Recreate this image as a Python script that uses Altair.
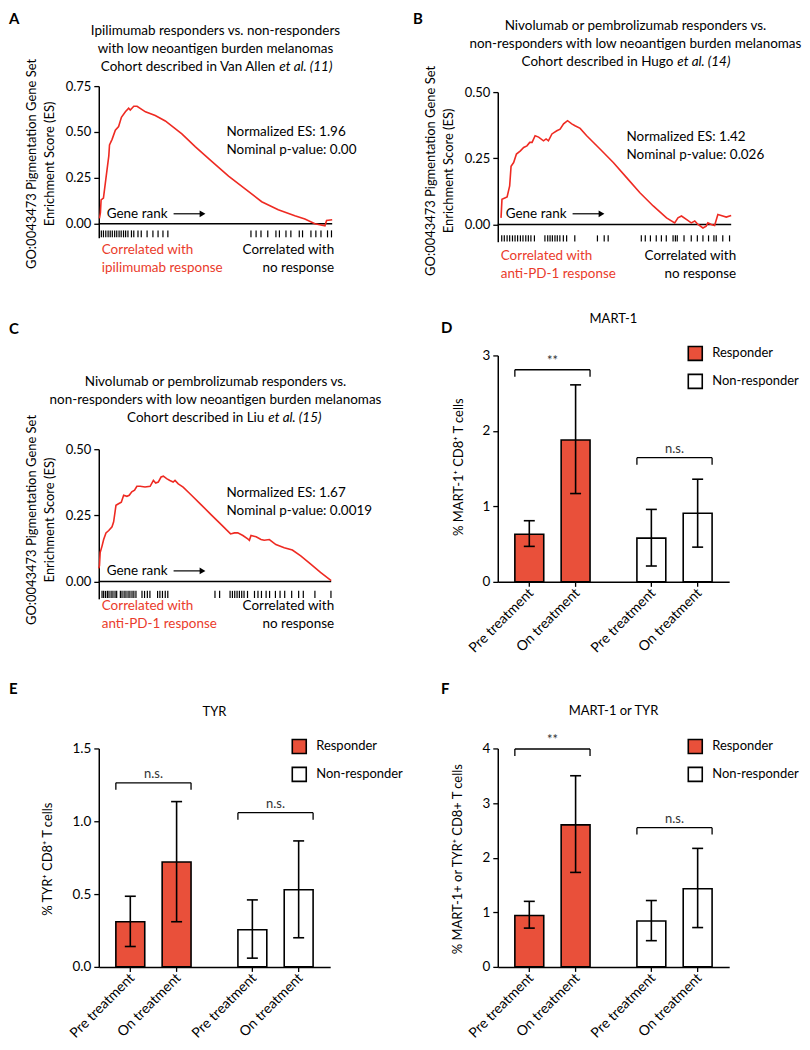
import altair as alt
import pandas as pd

FONT = "Lato"
LINE_RED = "#ee2a22"
TEXT_RED = "#ea3b2b"
BAR_RED = "#e9503a"

# ---------------- GSEA running enrichment scores ----------------
a_rank = [0.003, 0.007, 0.01, 0.02, 0.03, 0.036, 0.043, 0.046, 0.057, 0.071, 0.085, 0.097, 0.114,
          0.128, 0.135, 0.150, 0.164, 0.20, 0.242, 0.285, 0.356, 0.413, 0.484, 0.556, 0.627, 0.698,
          0.769, 0.84, 0.883, 0.926, 0.969, 0.976, 1.0]
a_es = [0.03, 0.06, 0.13, 0.14, 0.24, 0.30, 0.37, 0.43, 0.46, 0.51, 0.53, 0.58, 0.61,
        0.63, 0.62, 0.64, 0.64, 0.61, 0.59, 0.56, 0.49, 0.42, 0.34, 0.26, 0.19, 0.12,
        0.077, 0.044, 0.026, 0.0, -0.011, 0.018, 0.022]
a_hits = [0.011, 0.020, 0.030, 0.040, 0.049, 0.058, 0.068, 0.077, 0.087, 0.096, 0.106, 0.115, 0.125,
          0.14, 0.15, 0.168, 0.182, 0.207, 0.232, 0.254, 0.275, 0.296, 0.652, 0.674, 0.695, 0.724,
          0.759, 0.774, 0.802, 0.823, 0.859, 0.873, 0.909, 0.930, 0.952, 0.980, 0.997]

b_rank = [0.014, 0.018, 0.04, 0.051, 0.057, 0.068, 0.08, 0.097, 0.111, 0.125, 0.137, 0.147, 0.16,
          0.175, 0.196, 0.207, 0.217, 0.232, 0.253, 0.267, 0.282, 0.299, 0.317, 0.331, 0.353,
          0.381, 0.438, 0.495, 0.552, 0.609, 0.666, 0.723, 0.758, 0.772, 0.787, 0.808, 0.829,
          0.844, 0.858, 0.879, 0.893, 0.9, 0.915, 0.929, 0.943, 0.964, 0.979, 1.0]
b_es = [0.025, 0.095, 0.104, 0.146, 0.22, 0.234, 0.266, 0.278, 0.291, 0.297, 0.31, 0.31, 0.335,
        0.33, 0.316, 0.323, 0.316, 0.342, 0.354, 0.36, 0.38, 0.392, 0.38, 0.373, 0.363,
        0.335, 0.285, 0.234, 0.177, 0.12, 0.07, 0.025, 0.006, 0.025, 0.032, 0.019, 0.006,
        0.013, 0.0, -0.013, -0.006, 0.006, 0.0, -0.004, 0.038, 0.032, 0.028, 0.034]
b_hits = [0.017, 0.028, 0.040, 0.051, 0.063, 0.074, 0.085, 0.097, 0.108, 0.120, 0.131, 0.142, 0.157,
          0.202, 0.214, 0.224, 0.234, 0.245, 0.255, 0.266, 0.281, 0.295, 0.33, 0.427, 0.456, 0.473,
          0.615, 0.632, 0.654, 0.679, 0.701, 0.722, 0.751, 0.761, 0.769, 0.798, 0.829, 0.855,
          0.879, 0.903, 0.926, 0.936, 0.964, 0.993]

c_rank = [0.0, 0.003, 0.006, 0.014, 0.021, 0.031, 0.043, 0.057, 0.064, 0.074, 0.085, 0.097, 0.107,
          0.121, 0.131, 0.142, 0.154, 0.164, 0.178, 0.199, 0.221, 0.235, 0.245, 0.256, 0.268,
          0.278, 0.292, 0.306, 0.32, 0.328, 0.342, 0.363, 0.399, 0.442, 0.484, 0.527, 0.567,
          0.584, 0.598, 0.62, 0.641, 0.648, 0.655, 0.677, 0.698, 0.712, 0.734, 0.762, 0.798,
          0.833, 0.869, 0.912, 0.954, 1.0]
c_es = [0.05, 0.06, 0.11, 0.134, 0.159, 0.184, 0.193, 0.207, 0.226, 0.288, 0.294, 0.30, 0.326,
        0.322, 0.326, 0.339, 0.345, 0.36, 0.36, 0.357, 0.36, 0.382, 0.372, 0.376, 0.395,
        0.398, 0.389, 0.382, 0.376, 0.382, 0.369, 0.357, 0.326, 0.289, 0.252, 0.215, 0.18,
        0.184, 0.184, 0.174, 0.161, 0.156, 0.174, 0.169, 0.159, 0.156, 0.159, 0.14, 0.128,
        0.119, 0.097, 0.066, 0.035, 0.004]
c_hits = [0.014, 0.021, 0.029, 0.037, 0.044, 0.053, 0.061, 0.070, 0.077, 0.093, 0.100, 0.109, 0.117,
          0.126, 0.134, 0.143, 0.151, 0.160, 0.186, 0.197, 0.209, 0.220, 0.253, 0.263, 0.274,
          0.286, 0.297, 0.50, 0.52, 0.565, 0.575, 0.585, 0.595, 0.605, 0.615, 0.625, 0.64, 0.67,
          0.685, 0.70, 0.72, 0.735, 0.76, 0.78, 0.80, 0.83, 0.86, 0.88, 0.93, 0.999]

# ---------------- bar panels ----------------
bar_group = ["Responder", "Responder", "Non-responder", "Non-responder"]
bar_treat = ["Pre treatment", "On treatment", "Pre treatment", "On treatment"]
group_order = ["Responder", "Non-responder"]
treat_order = ["Pre treatment", "On treatment"]

d_mean = [0.63, 1.88, 0.58, 0.91]
d_lo = [0.47, 1.17, 0.21, 0.46]
d_hi = [0.81, 2.61, 0.96, 1.36]
d_sig_y = [2.81, 1.645]
d_sig_txt = ["**", "n.s."]

e_mean = [0.31, 0.72, 0.255, 0.53]
e_lo = [0.14, 0.31, 0.06, 0.20]
e_hi = [0.485, 1.135, 0.46, 0.865]
e_sig_y = [1.264, 1.059]
e_sig_txt = ["n.s.", "n.s."]

f_mean = [0.94, 2.60, 0.84, 1.43]
f_lo = [0.71, 1.73, 0.48, 0.72]
f_hi = [1.20, 3.50, 1.215, 2.17]
f_sig_y = [3.99, 2.55]
f_sig_txt = ["**", "n.s."]

W = 397
H0, H1, H2 = 292, 355, 381

ONE = alt.Data(values=[{"k": 1}])


def txt(s, x, y, size=13, color="black", align="left", baseline="middle", angle=0,
        style="normal", weight="normal"):
    return alt.Chart(ONE).mark_text(
        text=s, align=align, baseline=baseline, angle=angle, fontSize=size, font=FONT,
        color=color, fontStyle=style, fontWeight=weight
    ).encode(x=alt.value(x), y=alt.value(y))


def arrow(x1, x2, y):
    line = alt.Chart(ONE).mark_rule(color="black", strokeWidth=1.2).encode(
        x=alt.value(x1), x2=alt.value(x2), y=alt.value(y))
    head = alt.Chart(ONE).mark_point(shape="triangle-right", filled=True, color="black",
                                     size=45, opacity=1).encode(x=alt.value(x2), y=alt.value(y))
    return [line, head]


def gsea(rank, es, hits, H, xr, ydom, yr, yvals, rug, titles, split_x, ital, label, label_x,
         ytitle_x, ytitle_y, nes, pval, nes_x, nes_y, gr_x, gr_y, bl_x, bl_y, br_x, resp):
    xs = alt.Scale(domain=[0, 1], range=xr, nice=False, zero=False)
    ys = alt.Scale(domain=ydom, range=yr, nice=False, zero=False)
    yax = alt.Axis(orient="left", offset=-xr[0], values=yvals, format=".2f", tickSize=5,
                   tickWidth=1.3, tickColor="black", domainColor="black", domainWidth=1.5,
                   labelFont=FONT, labelFontSize=13, labelColor="black", labelPadding=3,
                   title=None, grid=False)
    curve = alt.Chart(pd.DataFrame({"rank": rank, "es": es})).mark_line(
        color=LINE_RED, strokeWidth=1.6).encode(
        x=alt.X("rank:Q", scale=xs, axis=None), y=alt.Y("es:Q", scale=ys, axis=yax))
    zero = alt.Chart(ONE).mark_rule(color="black", strokeWidth=1.5).encode(
        x=alt.X(datum=0, scale=xs, axis=None), x2=alt.X2(datum=1),
        y=alt.Y(datum=0, scale=ys, axis=yax))
    rugc = alt.Chart(pd.DataFrame({"hit": hits})).mark_rule(color="black", strokeWidth=1.2).encode(
        x=alt.X("hit:Q", scale=xs, axis=None), y=alt.Y(datum=rug[0], scale=ys, axis=yax),
        y2=alt.Y2(datum=rug[1]))
    cx = titles[3]
    layers = [zero, rugc, curve]
    layers.append(txt(titles[0], cx, titles[4], align="center", size=13.5))
    layers.append(txt(titles[1], cx, titles[4] + 18, align="center", size=13.5))
    layers.append(txt(titles[2], split_x - 2, titles[4] + 36, align="right", size=13.5))
    layers.append(txt(ital, split_x + 2, titles[4] + 36, align="left", style="italic", size=13.5))
    layers.append(txt(label, label_x[0], label_x[1], size=15, weight="bold", baseline="top"))
    layers.append(txt("GO:0043473 Pigmentation Gene Set", ytitle_x, ytitle_y, angle=270,
                      align="center", size=13))
    layers.append(txt("Enrichment Score (ES)", ytitle_x + 18, ytitle_y, angle=270,
                      align="center", size=13))
    layers.append(txt(nes, nes_x, nes_y, size=13.5))
    layers.append(txt(pval, nes_x, nes_y + 18, size=13.5))
    layers.append(txt("Gene rank", gr_x, gr_y, size=13.5))
    layers += arrow(gr_x + 67, gr_x + 96, gr_y)
    layers.append(txt("Correlated with", bl_x, bl_y, color=TEXT_RED, size=13.5))
    layers.append(txt(resp, bl_x, bl_y + 18, color=TEXT_RED, size=13.5))
    layers.append(txt("Correlated with", br_x, bl_y, align="right", size=13.5))
    layers.append(txt("no response", br_x, bl_y + 18, align="right", size=13.5))
    return alt.layer(*layers).properties(width=W, height=H)


def barpanel(mean, lo, hi, sig_y, sig_txt, H, xr, ydom, yr, yvals, yfmt, title, title_xy,
             label, label_xy, ytitle, ytitle_xy, legend_xy):
    df = pd.DataFrame({"group": bar_group, "treatment": bar_treat, "mean": mean, "lo": lo, "hi": hi})
    sig = pd.DataFrame({"group": group_order, "sig": sig_y, "txt": sig_txt})
    xs = alt.Scale(domain=group_order, range=xr, paddingInner=0.384, paddingOuter=0.14)
    xos = alt.Scale(domain=treat_order, paddingInner=0.376, paddingOuter=0)
    ys = alt.Scale(domain=ydom, range=yr, nice=False, zero=False)
    xax = alt.Axis(orient="bottom", offset=-(H - yr[0]), labels=False, ticks=False,
                   domainColor="black", domainWidth=1.5, title=None, grid=False)
    yax = alt.Axis(orient="left", offset=-xr[0], values=yvals, format=yfmt, tickSize=5,
                   tickWidth=1.3, tickColor="black", domainColor="black", domainWidth=1.5,
                   labelFont=FONT, labelFontSize=13.5, labelColor="black", labelPadding=3,
                   title=None, grid=False)

    def X(**kw):
        return alt.X("group:N", scale=xs, axis=xax, **kw)

    XO = alt.XOffset("treatment:N", scale=xos)
    legend = alt.Legend(orient="none", legendX=legend_xy[0], legendY=legend_xy[1], title=None,
                        symbolType="square", symbolSize=196, symbolStrokeColor="black",
                        symbolStrokeWidth=1.6, symbolOpacity=1, labelFont=FONT, labelFontSize=13,
                        labelColor="black", labelOffset=9, rowPadding=6, padding=0)
    base = alt.Chart(df)
    bars = base.mark_bar(stroke="black", strokeWidth=1.6, opacity=1).encode(
        x=X(), xOffset=XO, y=alt.Y("mean:Q", scale=ys, axis=yax),
        color=alt.Color("group:N", scale=alt.Scale(domain=group_order, range=[BAR_RED, "white"]),
                        legend=legend))
    err = base.mark_rule(color="black", strokeWidth=1.6).encode(
        x=X(), xOffset=XO, y=alt.Y("lo:Q", scale=ys, axis=yax), y2="hi:Q")
    cap_hi = base.mark_tick(color="black", thickness=1.6, size=11, opacity=1).encode(
        x=X(), xOffset=XO, y=alt.Y("hi:Q", scale=ys, axis=yax))
    cap_lo = base.mark_tick(color="black", thickness=1.6, size=11, opacity=1).encode(
        x=X(), xOffset=XO, y=alt.Y("lo:Q", scale=ys, axis=yax))
    xticks = base.mark_rule(color="black", strokeWidth=1.3, y2Offset=5).encode(
        x=X(), xOffset=XO, y=alt.Y(datum=0, scale=ys, axis=yax), y2=alt.Y2(datum=0))
    xlabels = base.mark_text(angle=315, align="right", baseline="middle", dx=-5, dy=8,
                             fontSize=14, font=FONT, color="black").encode(
        x=X(), xOffset=XO, y=alt.Y(datum=0, scale=ys, axis=yax), text="treatment:N")
    sb = alt.Chart(sig)
    br_top = sb.mark_rule(color="black", strokeWidth=1.3).encode(
        x=X(bandPosition=0), x2=alt.X2("group:N", bandPosition=1),
        y=alt.Y("sig:Q", scale=ys, axis=yax))
    br_l = sb.mark_rule(color="black", strokeWidth=1.3, y2Offset=7).encode(
        x=X(bandPosition=0), y=alt.Y("sig:Q", scale=ys, axis=yax), y2="sig:Q")
    br_r = sb.mark_rule(color="black", strokeWidth=1.3, y2Offset=7).encode(
        x=X(bandPosition=1), y=alt.Y("sig:Q", scale=ys, axis=yax), y2="sig:Q")
    br_t = sb.mark_text(dy=-9, fontSize=13, font=FONT, color="#333").encode(
        x=X(), y=alt.Y("sig:Q", scale=ys, axis=yax), text="txt:N")
    layers = [bars, err, cap_hi, cap_lo, xticks, xlabels, br_top, br_l, br_r, br_t,
              txt(title, title_xy[0], title_xy[1], size=13, align="center"),
              txt(label, label_xy[0], label_xy[1], size=15, weight="bold"),
              txt(ytitle, ytitle_xy[0], ytitle_xy[1], size=13, angle=270, align="center")]
    return alt.layer(*layers).properties(width=W, height=H)


pA = gsea(a_rank, a_es, a_hits, H0, [91, 325], [-0.076, 0.75], [229, 77], [0, 0.25, 0.5, 0.75],
          [-0.036, -0.074],
          ["Ipilimumab responders vs. non-responders", "with low neoantigen burden melanomas",
           "Cohort described in Van Allen", 208, 22], 270, "et al. (11)", "A", (1, 3),
          24, 155, "Normalized ES: 1.96", "Nominal p-value: 0.00", 219, 123, 99, 205,
          94, 241, 327, "ipilimumab response")

pB = gsea(b_rank, b_es, b_hits, H0, [94, 328], [-0.065, 0.5], [233, 83], [0, 0.25, 0.5],
          [-0.041, -0.064],
          ["Nivolumab or pembrolizumab responders vs.",
           "non-responders with low neoantigen burden melanomas",
           "Cohort described in Hugo", 232, 17], 272, "et al. (14)", "B", (9, 3),
          27, 162, "Normalized ES: 1.42", "Nominal p-value: 0.026", 223, 128, 102, 205,
          97, 247, 333, "anti-PD-1 response")

pC = gsea(c_rank, c_es, c_hits, H1, [91, 324], [-0.065, 0.5], [299, 149], [0, 0.25, 0.5],
          [-0.035, -0.062],
          ["Nivolumab or pembrolizumab responders vs.",
           "non-responders with low neoantigen burden melanomas",
           "Cohort described in Liu", 208, 82], 259, "et al. (15)", "C", (1, 22),
          24, 220, "Normalized ES: 1.67", "Nominal p-value: 0.0019", 219, 193, 99, 271,
          94, 306, 327, "anti-PD-1 response")

pD = barpanel(d_mean, d_lo, d_hi, d_sig_y, d_sig_txt, H1, [94, 326], [0, 3], [282, 55],
              [0, 1, 2, 3], "d", "MART-1", (210, 18), "D", (37, 28),
              "% MART-1\u207a CD8\u207a T cells", (55, 167), (284, 45))

pE = barpanel(e_mean, e_lo, e_hi, e_sig_y, e_sig_txt, H2, [91, 323], [0, 1.5], [311, 92],
              [0, 0.5, 1.0, 1.5], ".1f", "TYR", (207, 55), "E", (1, 32),
              "% TYR\u207a CD8\u207a T cells", (40, 203), (284, 82))

pF = barpanel(f_mean, f_lo, f_hi, f_sig_y, f_sig_txt, H2, [94, 326], [0, 4], [311, 92],
              [0, 1, 2, 3, 4], "d", "MART-1 or TYR", (210, 54), "F", (37, 32),
              "% MART-1+ or TYR\u207a CD8+ T cells", (54, 203), (284, 82))


def row(a, b):
    return alt.hconcat(a, b, spacing=0).resolve_scale(
        x="independent", y="independent", color="independent").resolve_legend(
        color="independent").resolve_axis(x="independent", y="independent")


chart = alt.vconcat(row(pA, pB), row(pC, pD), row(pE, pF), spacing=0).resolve_scale(
    x="independent", y="independent", color="independent").resolve_legend(
    color="independent").properties(padding=0).configure(font=FONT).configure_view(
    stroke=None, strokeWidth=0)

chart.save("out.html", embed_options={"renderer": "svg", "actions": False})
